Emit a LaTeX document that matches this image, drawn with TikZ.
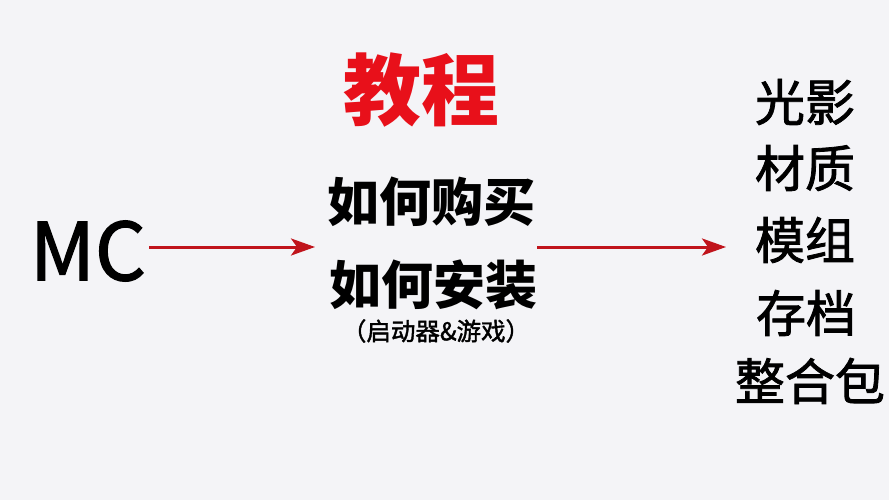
\documentclass[tikz,border=0pt]{standalone}
\usepackage{fontspec}
\setmainfont{Noto Sans CJK SC}
\newfontfamily\cjk{Noto Sans CJK SC}
\newfontfamily\cjkmed[FakeBold=1.6]{Noto Sans CJK SC}
\usetikzlibrary{arrows.meta}
\definecolor{bgc}{HTML}{F4F4F7}
\definecolor{arrowred}{HTML}{C0141C}
\definecolor{titlered}{HTML}{E8101A}
\tikzset{
  lbl/.style={inner sep=0pt, outer sep=0pt, anchor=center, text=black},
  mctext/.style={lbl, font=\cjkmed\fontsize{80}{80}\selectfont},
  titletext/.style={lbl, text=titlered, font=\cjk\bfseries\fontsize{78}{78}\selectfont},
  midtext/.style={lbl, font=\cjk\bfseries\fontsize{52}{52}\selectfont},
  notetext/.style={lbl, font=\cjkmed\fontsize{24.5}{24.5}\selectfont},
  righttext/.style={lbl, font=\cjkmed\fontsize{50}{50}\selectfont},
  arr/.style={draw=arrowred, line width=3pt, -{Stealth[length=24pt,width=17pt,inset=6pt]}}
}
\begin{document}
\begin{tikzpicture}[x=1pt,y=-1pt]
\fill[bgc] (0,0) rectangle (889,500);
\useasboundingbox (0,0) rectangle (889,500);
\coordinate (axis) at (0,247);
\node[mctext] (mc) at (88,251) {MC};
\node[titletext] (title) at (421,90) {教程};
\node[midtext] (buy) at (431,202) {如何购买};
\node[midtext] (inst) at (433,285) {如何安装};
\node[notetext] (note) at (436,331) {（启动器\&游戏）};
\node[righttext] (light) at (805,102) {光影};
\node[righttext] (mat) at (805,168) {材质};
\node[righttext] (mods) at (805,240) {模组};
\node[righttext] (save) at (806,313) {存档};
\node[righttext] (pack) at (810,381) {整合包};
\draw[arr, shorten <=3pt, shorten >=12pt] (mc.east |- axis) -- (buy.west |- axis);
\draw[arr, shorten >=29pt] (inst.east |- axis) -- (mods.west |- axis);
\end{tikzpicture}
\end{document}
